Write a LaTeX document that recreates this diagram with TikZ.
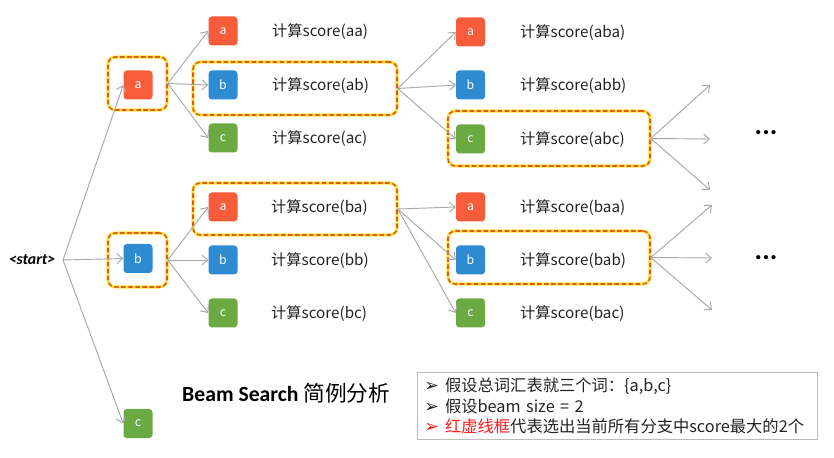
\documentclass[tikz,border=0pt]{standalone}
\usepackage{fontspec}
\setmainfont{Noto Sans CJK SC}
\newfontfamily\calibfont{Carlito}
\newfontfamily\symfont{DejaVu Sans}
\usetikzlibrary{arrows.meta,positioning,calc}
\definecolor{tokred}{HTML}{F95C3B}
\definecolor{tokblue}{HTML}{2E8BD1}
\definecolor{tokgreen}{HTML}{6BAA42}
\definecolor{beamorange}{HTML}{E25A0C}
\definecolor{beamglow}{HTML}{FFE14A}
\definecolor{edgegray}{HTML}{A8A8A8}
\definecolor{boxgray}{HTML}{BBBBBB}
\definecolor{ink}{HTML}{222222}
\definecolor{hlred}{HTML}{FF1A1A}
\newcommand{\legbullet}{{\symfont\fontsize{15}{13}\selectfont ➢}\hspace{0.18cm}}
\tikzset{
  tok/.style={rounded corners=1mm,minimum width=0.87cm,minimum height=0.87cm,
              inner sep=0pt,text=white,font=\fontsize{10.5}{12}\selectfont},
  toka/.style={tok,fill=tokred},
  tokb/.style={tok,fill=tokblue},
  tokc/.style={tok,fill=tokgreen},
  scorelbl/.style={anchor=west,inner sep=0pt,text=ink,
                   font=\fontsize{13}{15}\selectfont},
  beam/.style={draw=beamorange,line width=1.3pt,dash pattern=on 3.8pt off 2.2pt,
               rounded corners=2.2mm,inner sep=0pt,
               preaction={draw=beamglow,line width=2.7pt,solid}},
  edge/.style={-{Straight Barb[length=1.7mm,width=3mm]},line width=0.8pt,
               draw=edgegray},
  morelbl/.style={font=\calibfont\bfseries\fontsize{24}{24}\selectfont}
}
\begin{document}
\begin{tikzpicture}[x=0.03cm,y=-0.03cm]
    \path[use as bounding box] (0,0) rectangle (834,458);
    % root and first step
    \node[font=\calibfont\bfseries\itshape\fontsize{13.5}{15}\selectfont] (start) at (32,260) {<start>};
    \coordinate (fork) at (63,260);
    \node[beam,minimum width=1.77cm,minimum height=1.59cm] (f-a) at (137.5,83.5) {};
    \node[beam,minimum width=1.77cm,minimum height=1.62cm] (f-b) at (137.5,260) {};
    \node[toka] (n-a) at (138,85) {a};
    \node[tokb] (n-b) at (138,258.5) {b};
    \node[tokc] (n-c) at (138,423.5) {c};
    % second step
    \node[beam,minimum width=6.12cm,minimum height=1.59cm] (f-ab) at (295,88.5) {};
    \node[beam,minimum width=6.12cm,minimum height=1.56cm] (f-ba) at (295,209) {};
    \node[toka] (n-aa) at (223,31) {a};
    \node[tokb] (n-ab) at (223,85) {b};
    \node[tokc] (n-ac) at (223,138) {c};
    \node[toka] (n-ba) at (223,207) {a};
    \node[tokb] (n-bb) at (223,260) {b};
    \node[tokc] (n-bc) at (223,313) {c};
    \node[scorelbl] (s-aa) at (272,32) {计算score(aa)};
    \node[scorelbl] (s-ab) at (272,86) {计算score(ab)};
    \node[scorelbl] (s-ac) at (272,139) {计算score(ac)};
    \node[scorelbl] (s-ba) at (271,208) {计算score(ba)};
    \node[scorelbl] (s-bb) at (271,261) {计算score(bb)};
    \node[scorelbl] (s-bc) at (271,314) {计算score(bc)};
    % third step
    \node[beam,minimum width=6.06cm,minimum height=1.65cm] (f-abc) at (549,138.5) {};
    \node[beam,minimum width=6.06cm,minimum height=1.59cm] (f-bab) at (549,257.5) {};
    \node[toka] (n-aba) at (470.5,32) {a};
    \node[tokb] (n-abb) at (470.5,85) {b};
    \node[tokc] (n-abc) at (470.5,139) {c};
    \node[toka] (n-baa) at (470.5,207) {a};
    \node[tokb] (n-bab) at (470.5,260) {b};
    \node[tokc] (n-bac) at (470.5,313) {c};
    \node[scorelbl] (s-aba) at (520,33) {计算score(aba)};
    \node[scorelbl] (s-abb) at (520,86) {计算score(abb)};
    \node[scorelbl] (s-abc) at (520,140) {计算score(abc)};
    \node[scorelbl] (s-baa) at (520,208) {计算score(baa)};
    \node[scorelbl] (s-bab) at (520,261) {计算score(bab)};
    \node[scorelbl] (s-bac) at (520,314) {计算score(bac)};
    % open ends
    \coordinate (o-abc1) at (710,85);
    \coordinate (o-abc2) at (710,139);
    \coordinate (o-abc3) at (710,190);
    \coordinate (o-bab1) at (712,205);
    \coordinate (o-bab2) at (712,258);
    \coordinate (o-bab3) at (712,310);
    \node[morelbl] (more-abc) at (766,133) {...};
    \node[morelbl] (more-bab) at (766,258) {...};
    % connectors
    \draw[edge] (fork) -- (n-a.west);
    \draw[edge] (fork) -- (n-b.west);
    \draw[edge] (fork) -- (n-c.west);
    \draw[edge] (f-a.east) -- (n-aa.west);
    \draw[edge] (f-a.east) -- (n-ab.west);
    \draw[edge] (f-a.east) -- (n-ac.west);
    \draw[edge] (f-b.east) -- (n-ba.west);
    \draw[edge] (f-b.east) -- (n-bb.west);
    \draw[edge] (f-b.east) -- (n-bc.west);
    \draw[edge] (f-ab.east) -- (n-aba.west);
    \draw[edge] (f-ab.east) -- (n-abb.west);
    \draw[edge] (f-ab.east) -- (n-abc.west);
    \draw[edge] (f-ba.east) -- (n-baa.west);
    \draw[edge] (f-ba.east) -- (n-bab.west);
    \draw[edge] (f-ba.east) -- (n-bac.west);
    \draw[edge] (f-abc.east) -- (o-abc1);
    \draw[edge] (f-abc.east) -- (o-abc2);
    \draw[edge] (f-abc.east) -- (o-abc3);
    \draw[edge] (f-bab.east) -- (o-bab1);
    \draw[edge] (f-bab.east) -- (o-bab2);
    \draw[edge] (f-bab.east) -- (o-bab3);
    % caption and notes
    \node[anchor=west,inner sep=0pt,font=\fontsize{18.5}{20}\selectfont] (title) at (182,393)
      {{\calibfont\bfseries Beam Search} 简例分析};
    \node[draw=boxgray,line width=0.6pt,anchor=north west,text width=11.58cm,
          inner xsep=0.21cm,inner ysep=0.1cm,minimum height=2.01cm,align=left,
          text=ink,font=\fontsize{13.9}{17.4}\selectfont] (legend) at (417,372)
      {\legbullet 假设总词汇表就三个词：\{a,b,c\}\\
       \legbullet 假设beam size = 2\\
       {\color{hlred}\legbullet 红虚线框}代表选出当前所有分支中score最大的2个};
  \end{tikzpicture}
\end{document}
